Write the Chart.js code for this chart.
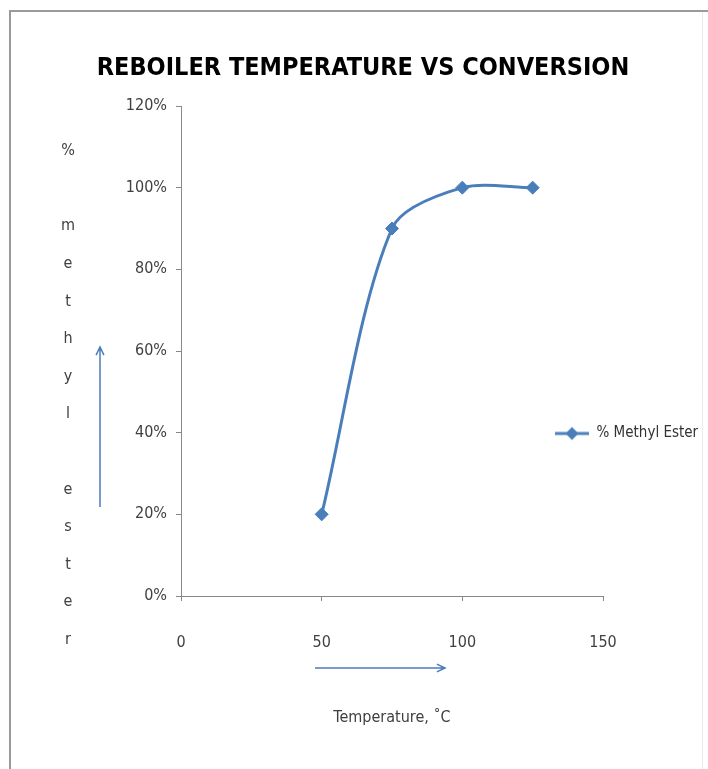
<!DOCTYPE html>
<html>
<head>
<meta charset="utf-8">
<script src="https://cdn.jsdelivr.net/npm/chart.js@4"></script>
<style>
  html, body { margin: 0; padding: 0; background: #fff; }
</style>
</head>
<body>
<canvas id="myChart" width="708" height="769"></canvas>
<script>
const temperatures = [50, 75, 100, 125];
const methylEster = [0.20, 0.90, 1.00, 1.00];
const xTickValues = [0, 50, 100, 150];
const yTickValues = [0, 0.2, 0.4, 0.6, 0.8, 1.0, 1.2];
const chartTitle = 'REBOILER TEMPERATURE VS CONVERSION';
const seriesName = '% Methyl Ester';
const xTitle = 'Temperature, ˚C';
const yTitle = '% methyl ester';

const narrow = "'Liberation Sans Narrow', 'DejaVu Sans Condensed', 'Roboto', sans-serif";
const blue = '#4a7ebb';

// legend marker: a short line with a diamond on it
const legendMarker = document.createElement('canvas');
legendMarker.width = 34;
legendMarker.height = 16;
(function () {
    const c = legendMarker.getContext('2d');
    c.strokeStyle = blue;
    c.lineWidth = 3;
    c.beginPath(); c.moveTo(0, 8); c.lineTo(34, 8); c.stroke();
    c.fillStyle = blue;
    c.beginPath(); c.moveTo(17, 1.5); c.lineTo(23.5, 8); c.lineTo(17, 14.5); c.lineTo(10.5, 8); c.closePath(); c.fill();
})();

function arrow(ctx, x1, y1, x2, y2) {
    const a = Math.atan2(y2 - y1, x2 - x1);
    const h = 9;
    ctx.beginPath();
    ctx.moveTo(x1, y1); ctx.lineTo(x2, y2);
    ctx.moveTo(x2 - h * Math.cos(a - 0.45), y2 - h * Math.sin(a - 0.45));
    ctx.lineTo(x2, y2);
    ctx.lineTo(x2 - h * Math.cos(a + 0.45), y2 - h * Math.sin(a + 0.45));
    ctx.stroke();
}

const decorations = {
    id: 'decorations',
    afterLayout(chart) {
        // put the legend at the right, over the end of the plot like the Excel original
        const lg = chart.legend;
        lg.left = 547; lg.right = 708;
        lg.top = 418; lg.bottom = 450;
    },
    beforeDraw(chart) {
        const ctx = chart.ctx;
        ctx.save();
        ctx.fillStyle = '#fff';
        ctx.fillRect(0, 0, chart.width, chart.height);
        ctx.strokeStyle = '#9a9a9a';
        ctx.lineWidth = 2;
        ctx.beginPath();
        ctx.moveTo(10, chart.height); ctx.lineTo(10, 11); ctx.lineTo(chart.width, 11);
        ctx.stroke();
        ctx.strokeStyle = '#ececec';
        ctx.lineWidth = 1;
        ctx.beginPath(); ctx.moveTo(702.5, 12); ctx.lineTo(702.5, chart.height); ctx.stroke();
        ctx.restore();
    },
    afterDraw(chart) {
        const ctx = chart.ctx;
        ctx.save();
        // stacked y axis title
        ctx.fillStyle = '#404040';
        ctx.font = '16px ' + narrow;
        ctx.textAlign = 'center';
        ctx.textBaseline = 'middle';
        yTitle.split('').forEach((ch, i) => {
            ctx.fillText(ch, 68, 151 + i * 37.6);
        });
        // arrows
        ctx.strokeStyle = blue;
        ctx.lineWidth = 1.5;
        arrow(ctx, 100, 507, 100, 347);
        arrow(ctx, 315, 668, 445, 668);
        ctx.restore();
    }
};

new Chart(document.getElementById('myChart'), {
    type: 'line',
    data: {
        datasets: [{
            label: seriesName,
            data: temperatures.map((t, i) => ({ x: t, y: methylEster[i] })),
            borderColor: blue,
            backgroundColor: blue,
            borderWidth: 3,
            pointStyle: 'rectRot',
            pointRadius: 6.5,
            pointBorderWidth: 1,
            tension: 0.3,
            fill: false
        }]
    },
    options: {
        responsive: false,
        animation: false,
        layout: { padding: { top: 0, left: 18, right: 0, bottom: 0 } },
        plugins: {
            title: {
                display: true,
                text: chartTitle,
                color: '#000',
                font: { family: narrow, size: 25, weight: 'bold' },
                padding: { top: 53, bottom: 23 }
            },
            legend: {
                position: 'chartArea',
                align: 'start',
                labels: {
                    usePointStyle: true,
                    pointStyle: legendMarker,
                    pointStyleWidth: 34,
                    padding: 8,
                    color: '#333',
                    font: { family: narrow, size: 15 }
                }
            },
            tooltip: { enabled: false }
        },
        scales: {
            x: {
                type: 'linear',
                min: 0,
                max: 150,
                afterBuildTicks: s => { s.ticks = xTickValues.map(v => ({ value: v })); },
                grid: { drawOnChartArea: false, tickLength: 5, color: '#888' },
                border: { color: '#888' },
                ticks: { padding: 32, color: '#404040', font: { family: narrow, size: 16 } },
                title: {
                    display: true,
                    text: xTitle,
                    color: '#404040',
                    font: { family: narrow, size: 16 },
                    padding: { top: 0, bottom: 42 }
                },
                afterFit: s => { s.height = 173; }
            },
            y: {
                min: 0,
                max: 1.2,
                afterBuildTicks: s => { s.ticks = yTickValues.map(v => ({ value: v })); },
                grid: { drawOnChartArea: false, tickLength: 5, color: '#888' },
                border: { color: '#888' },
                ticks: {
                    padding: 9,
                    color: '#404040',
                    font: { family: narrow, size: 16 },
                    callback: v => Math.round(v * 100) + '%'
                },
                afterFit: s => { s.width = 163; }
            },
            // empty right-hand axis that only reserves the legend's space
            yRight: {
                position: 'right',
                min: 0,
                max: 1.2,
                grid: { display: false },
                border: { display: false },
                ticks: { display: false },
                afterFit: s => { s.width = 105; }
            }
        }
    },
    plugins: [decorations]
});
</script>
</body>
</html>
